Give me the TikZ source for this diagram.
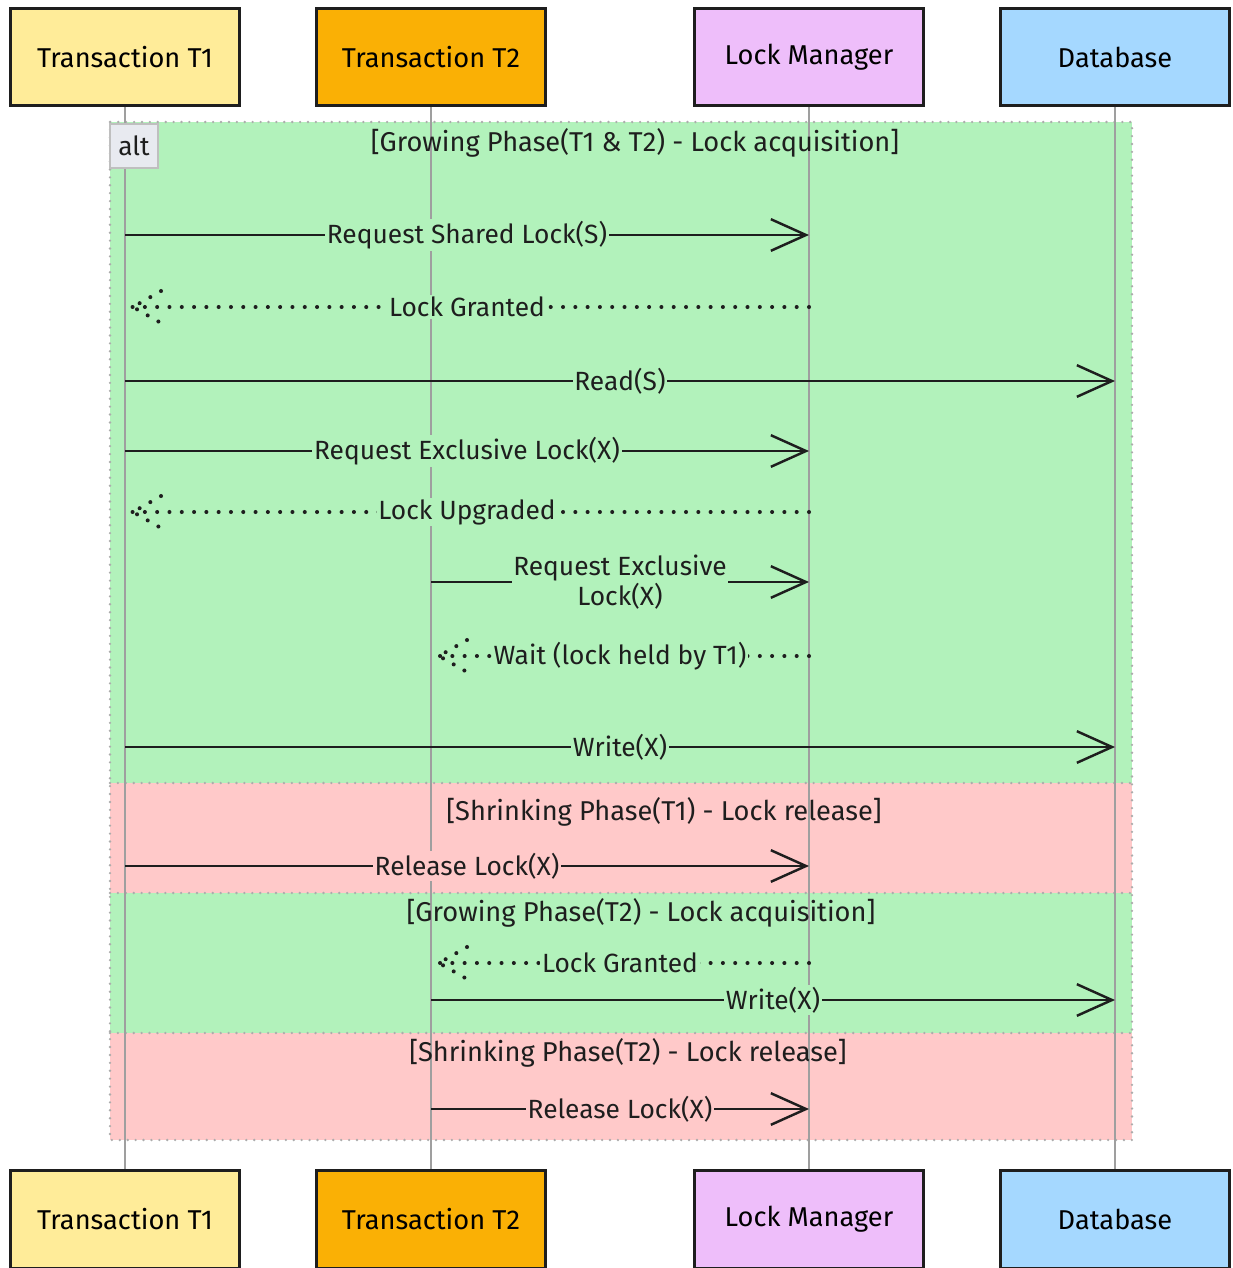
\documentclass[tikz,border=0pt]{standalone}
\usepackage{fontspec}
\setmainfont{Fira Sans}
\usetikzlibrary{arrows.meta,calc,positioning}
\definecolor{inkc}{HTML}{1E1E1E}
\definecolor{tonec}{HTML}{FFEC99}
\definecolor{ttwoc}{HTML}{FAB005}
\definecolor{lockc}{HTML}{EEBEFA}
\definecolor{dbc}{HTML}{A5D8FF}
\definecolor{grn}{HTML}{B2F2BB}
\definecolor{rd}{HTML}{FFC9C9}
\definecolor{altc}{HTML}{E8EAF0}
\tikzset{
  actor/.style={draw=inkc,line width=1.7pt,minimum width=4.6cm,minimum height=1.96cm,font=\fontsize{15.5}{18}\selectfont},
  life/.style={draw=gray!75,line width=1.1pt},
  msg/.style={-{Straight Barb[length=20pt,width=18pt,line width=1.4pt]},line width=1.4pt,draw=inkc},
  ret/.style={line width=2.3pt,draw=inkc,dash pattern=on 0pt off 7pt,line cap=round},
  lbl/.style={fill=#1,inner sep=1pt,text=inkc,font=\fontsize{15}{17}\selectfont},
  phase/.style={text=inkc,font=\fontsize{15.5}{18}\selectfont},
  sep/.style={draw=gray!65,line width=1.5pt,dash pattern=on 0pt off 4.5pt,line cap=round}
}
\newcommand\dotbarb[1]{\draw[ret] ($(#1)+(36,-16)$) -- ($(#1)+(8,0)$) -- ($(#1)+(36,16)$);}

\begin{document}
\begin{tikzpicture}[x=0.02cm,y=-0.02cm]
\useasboundingbox (0,0) rectangle (1233,1268);
% actors
\node[actor,fill=tonec] (t1) at (125,57) {Transaction T1};
\node[actor,fill=ttwoc] (t2) at (431,57) {Transaction T2};
\node[actor,fill=lockc] (lm) at (809,57) {Lock Manager};
\node[actor,fill=dbc] (db) at (1115,57) {Database};
\node[actor,fill=tonec] (t1b) at (125,1219) {Transaction T1};
\node[actor,fill=ttwoc] (t2b) at (431,1219) {Transaction T2};
\node[actor,fill=lockc] (lmb) at (809,1219) {Lock Manager};
\node[actor,fill=dbc] (dbb) at (1115,1219) {Database};
% phases
\fill[grn] (110,122) rectangle (1132,783);
\fill[rd] (110,783) rectangle (1132,893);
\fill[grn] (110,893) rectangle (1132,1033);
\fill[rd] (110,1033) rectangle (1132,1140);
\draw[sep] (110,122) rectangle (1132,1140);
\draw[sep] (110,783) -- (1132,783);
\draw[sep] (110,893) -- (1132,893);
\draw[sep] (110,1033) -- (1132,1033);
% lifelines
\foreach \a in {t1,t2,lm,db}
  \draw[life] (\a) -- (\a b);
\node[draw=gray!50,fill=altc,line width=0.8pt,minimum width=0.96cm,minimum height=0.88cm,font=\fontsize{15}{17}\selectfont,text=inkc] (alt) at (134,146) {alt};
\node[phase] (ph1) at (635,143) {[Growing Phase(T1 \& T2) - Lock acquisition]};
\node[phase] (ph2) at (664,812) {[Shrinking Phase(T1) - Lock release]};
\node[phase] (ph3) at (641,913) {[Growing Phase(T2) - Lock acquisition]};
\node[phase] (ph4) at (628,1053) {[Shrinking Phase(T2) - Lock release]};
% message rows
\coordinate (m1) at (0,235);
\coordinate (m2) at (0,307);
\coordinate (m3) at (0,381);
\coordinate (m4) at (0,451);
\coordinate (m5) at (0,512);
\coordinate (m6) at (0,582);
\coordinate (m7) at (0,656);
\coordinate (m8) at (0,747);
\coordinate (m9) at (0,866);
\coordinate (m10) at (0,963);
\coordinate (m11) at (0,1000);
\coordinate (m12) at (0,1109);
% messages
\draw[msg] (t1 |- m1) -- node[lbl=grn] {Request Shared Lock(S)} (lm |- m1);
\draw[ret] (lm |- m2) -- node[lbl=grn] {Lock Granted} (t1 |- m2);
\dotbarb{t1 |- m2}
\draw[msg] (t1 |- m3) -- node[lbl=grn] {Read(S)} (db |- m3);
\draw[msg] (t1 |- m4) -- node[lbl=grn] {Request Exclusive Lock(X)} (lm |- m4);
\draw[ret] (lm |- m5) -- node[lbl=grn] {Lock Upgraded} (t1 |- m5);
\dotbarb{t1 |- m5}
\draw[msg] (t2 |- m6) -- node[lbl=grn,align=center] {Request Exclusive\\Lock(X)} (lm |- m6);
\draw[ret] (lm |- m7) -- node[lbl=grn] {Wait (lock held by T1)} (t2 |- m7);
\dotbarb{t2 |- m7}
\draw[msg] (t1 |- m8) -- node[lbl=grn] {Write(X)} (db |- m8);
\draw[msg] (t1 |- m9) -- node[lbl=rd] {Release Lock(X)} (lm |- m9);
\draw[ret] (lm |- m10) -- node[lbl=grn] {Lock Granted} (t2 |- m10);
\dotbarb{t2 |- m10}
\draw[msg] (t2 |- m11) -- node[lbl=grn] {Write(X)} (db |- m11);
\draw[msg] (t2 |- m12) -- node[lbl=rd] {Release Lock(X)} (lm |- m12);
\end{tikzpicture}
\end{document}
